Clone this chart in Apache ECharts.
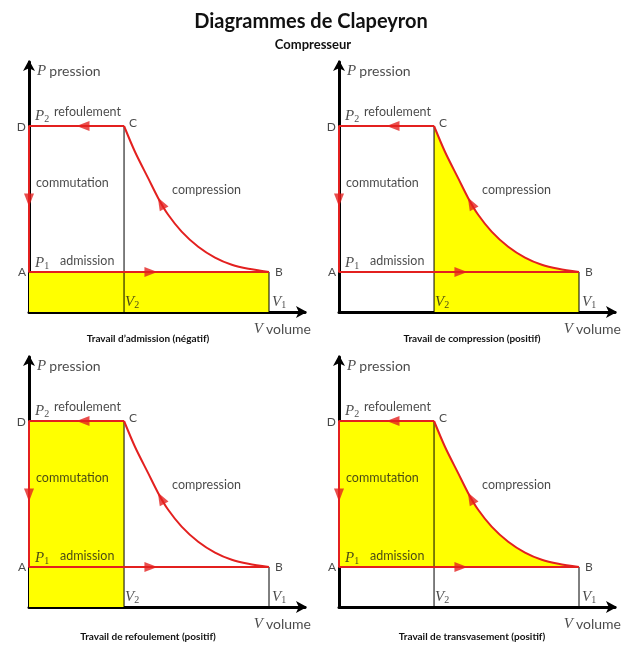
<!DOCTYPE html>
<html><head><meta charset="utf-8">
<script src="https://cdn.jsdelivr.net/npm/echarts@6/dist/echarts.min.js"></script>
<style>html,body{margin:0;padding:0;background:#fff}#c{width:640px;height:654px}</style>
</head><body><div id="c"></div>
<script>
// ---- data ----
const pointNames = ['A', 'B', 'C', 'D'];
const pointV = [0, 10, 3.96, 0];
const pointP = [1, 1, 4.65, 4.65];
const curveV = [3.96, 4.42, 4.97, 5.39, 5.80, 6.36, 7.05, 7.75, 8.45, 9.14, 10];
const curveP = [4.65, 4.00, 3.34, 2.84, 2.43, 2.01, 1.63, 1.36, 1.18, 1.08, 1.00];
const stageNames = ['refoulement', 'commutation', 'admission', 'compression'];
const arrowV = [2.25, 0, 5.08, 5.5];
const arrowP = [4.65, 2.8, 1, 2.72];
const panelTitles = ['Travail d\u2019admission (négatif)', 'Travail de compression (positif)', 'Travail de refoulement (positif)', 'Travail de transvasement (positif)'];
const fillKinds = ['admission', 'compression', 'refoulement', 'transvasement'];
const axisMaxV = 11.5, axisMaxP = 6.25;

// ---- derived ----
const A = [pointV[0], pointP[0]], B = [pointV[1], pointP[1]], C = [pointV[2], pointP[2]], D = [pointV[3], pointP[3]];
const curve = curveV.map((v, i) => [v, curveP[i]]);
const V1 = B[0], V2 = C[0], P1 = A[1], P2 = D[1];

const RED = '#e3201f', YEL = '#ffff00', TXT = '#1a1a1a';
const SANS = 'Lato';
const arrowRot = [90, 180, -90, 29];
const SMOOTH = 0.3;

const grids = [], xAxes = [], yAxes = [], series = [];
const titles = [
  {text: 'Diagrammes de Clapeyron', left: 306, top: 7, textAlign: 'center', textStyle: {fontFamily: SANS, fontSize: 20, fontWeight: 'bold', color: '#111'}},
  {text: 'Compresseur', left: 308, top: 33, textAlign: 'center', textStyle: {fontFamily: SANS, fontSize: 13, fontWeight: 'bold', color: '#111'}}
];

const rich = {
  i: {fontFamily: 'Liberation Serif', fontStyle: 'italic', fontSize: 15, color: TXT},
  s: {fontFamily: 'Liberation Serif', fontSize: 10, color: TXT, verticalAlign: 'bottom', padding: [6, 0, 0, 0]},
  t: {fontFamily: SANS, fontSize: 14, color: TXT}
};

function lab(pt, text, align, dx, dy, size) {
  return {value: pt, label: {show: true, position: 'inside', formatter: text, align: align, verticalAlign: 'middle',
    offset: [dx, dy], fontFamily: SANS, fontSize: size || 12.5, color: TXT, rich: rich}};
}

function areaSeries(k, data, origin, smooth) {
  return {type: 'line', xAxisIndex: k, yAxisIndex: k, data: data, symbol: 'none', silent: true, z: 1,
    smooth: smooth ? SMOOTH : false,
    lineStyle: {width: 0}, areaStyle: {color: YEL, opacity: 1, origin: origin}};
}

for (let k = 0; k < 4; k++) {
  const col = k % 2, row = Math.floor(k / 2);
  const left = 29 + 310 * col, top = 62 + 295 * row;
  grids.push({left: left, top: top, width: 276, height: 250});
  xAxes.push({gridIndex: k, type: 'value', min: 0, max: axisMaxV,
    axisLine: {show: true, onZero: true, symbol: ['none', 'arrow'], symbolSize: [9, 11], symbolOffset: [0, 2], lineStyle: {color: '#000', width: 3}},
    axisTick: {show: false}, axisLabel: {show: false}, splitLine: {show: false}});
  yAxes.push({gridIndex: k, type: 'value', min: 0, max: axisMaxP,
    axisLine: {show: true, onZero: true, symbol: ['none', 'arrow'], symbolSize: [9, 11], symbolOffset: [0, 2], lineStyle: {color: '#000', width: 3}},
    axisTick: {show: false}, axisLabel: {show: false}, splitLine: {show: false}});

  // fill
  const kind = fillKinds[k];
  if (kind === 'admission') series.push(areaSeries(k, [A, B], 'start', false));
  else if (kind === 'compression') series.push(areaSeries(k, curve.slice(), 'start', true));
  else if (kind === 'refoulement') series.push(areaSeries(k, [D, C], 'start', false));
  else {
    series.push(areaSeries(k, [D, C], P1, false));
    series.push(areaSeries(k, curve.slice(), P1, true));
  }

  // thin verticals at V2 and V1
  series.push({type: 'line', xAxisIndex: k, yAxisIndex: k, data: [[V2, 0], C], symbol: 'none', z: 2, lineStyle: {color: '#000', width: 1}});
  series.push({type: 'line', xAxisIndex: k, yAxisIndex: k, data: [[V1, 0], B], symbol: 'none', z: 2, lineStyle: {color: '#000', width: 1}});

  // red cycle: straight legs C -> D -> A -> B, and compression curve B -> C
  series.push({type: 'line', xAxisIndex: k, yAxisIndex: k, data: [C, D, A, B], symbol: 'none', z: 3, lineStyle: {color: RED, width: 2}});
  series.push({type: 'line', xAxisIndex: k, yAxisIndex: k, data: curve.slice(), symbol: 'none', z: 3, smooth: SMOOTH,
    lineStyle: {color: RED, width: 2}});

  // arrows
  series.push({type: 'scatter', xAxisIndex: k, yAxisIndex: k, z: 4, symbol: 'triangle', symbolSize: [10, 13],
    itemStyle: {color: RED},
    data: arrowV.map((v, i) => ({value: [v, arrowP[i]], symbolRotate: arrowRot[i]}))});

  // labels
  series.push({type: 'scatter', xAxisIndex: k, yAxisIndex: k, z: 5, symbolSize: 1, itemStyle: {color: 'rgba(0,0,0,0)'}, silent: true,
    data: [
      lab([0, axisMaxP], '{i|P} {t|pression}', 'left', 8, 9),
      lab([axisMaxV, 0], '{i|V} {t|volume}', 'right', 6, 17),
      lab(D, '{i|P}{s|2}', 'left', 6, -10),
      lab(A, '{i|P}{s|1}', 'left', 6, -9),
      lab([V2, 0], '{i|V}{s|2}', 'left', 1, -10),
      lab([V1, 0], '{i|V}{s|1}', 'left', 3, -10),
      lab(D, stageNames[0], 'left', 25, -14),
      lab(D, stageNames[1], 'left', 7, 57),
      lab(A, stageNames[2], 'left', 31, -11),
      lab(C, stageNames[3], 'left', 48, 64),
      lab(A, pointNames[0], 'right', -3, 0, 12),
      lab(B, pointNames[1], 'left', 6, 0, 12),
      lab(C, pointNames[2], 'left', 5, -3, 12),
      lab(D, pointNames[3], 'right', -3, 1, 12)
    ]});

  titles.push({text: panelTitles[k], left: 143 + 324 * col, top: 329 + 298 * row, textAlign: 'center',
    textStyle: {fontFamily: SANS, fontSize: 10, fontWeight: 'bold', color: '#111'}});
}

const chart = echarts.init(document.getElementById('c'), null, {renderer: 'canvas'});
chart.setOption({animation: false, backgroundColor: '#fff', title: titles, grid: grids, xAxis: xAxes, yAxis: yAxes, series: series});
</script></body></html>
